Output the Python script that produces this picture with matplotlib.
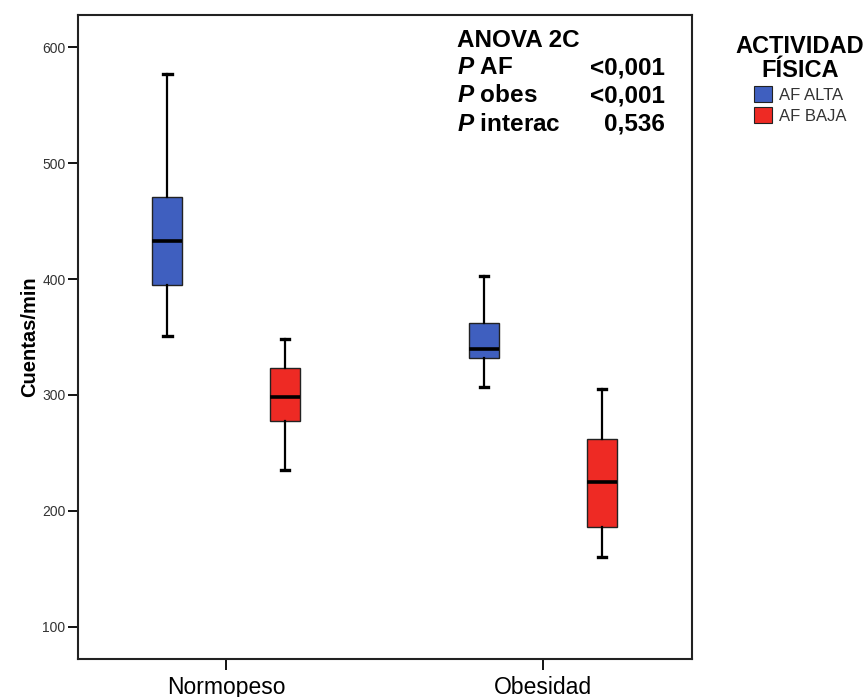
import matplotlib
matplotlib.use("Agg")
from matplotlib import pyplot as plt
from matplotlib.patches import Patch

plt.rcParams['font.family'] = ['Liberation Sans', 'DejaVu Sans']
plt.rcParams['mathtext.fontset'] = 'custom'
plt.rcParams['mathtext.bfit'] = 'Liberation Sans:bold:italic'

# groups and physical activity levels
groups = ['Normopeso', 'Obesidad']
levels = ['AF ALTA', 'AF BAJA']
colors = ['#3F5FBF', '#EE2A24']

# box stats, one value per group (Normopeso, Obesidad)
alta_whislo = [351, 307]
alta_q1 = [395, 332]
alta_med = [433, 340]
alta_q3 = [471, 362]
alta_whishi = [577, 403]

baja_whislo = [235, 160]
baja_q1 = [278, 186]
baja_med = [298, 225]
baja_q3 = [323, 262]
baja_whishi = [348, 305]

offset = 0.186

fig = plt.figure(figsize=(8.68, 6.97), dpi=100)
ax = fig.add_axes([78/868, 1-659/697, 614/868, 644/697])

def make_stats(lo, q1, med, q3, hi):
	return [dict(whislo=lo[i], q1=q1[i], med=med[i], q3=q3[i], whishi=hi[i], fliers=[])
			for i in range(len(groups))]

series = [
	(make_stats(alta_whislo, alta_q1, alta_med, alta_q3, alta_whishi), -offset, colors[0]),
	(make_stats(baja_whislo, baja_q1, baja_med, baja_q3, baja_whishi), offset, colors[1]),
]

for stats, off, col in series:
	pos = [i + off for i in range(len(groups))]
	ax.bxp(stats, positions=pos, widths=0.095, capwidths=0.028, patch_artist=True,
		   showfliers=False, manage_ticks=False,
		   boxprops=dict(facecolor=col, edgecolor='#222222', linewidth=1.0),
		   medianprops=dict(color='black', linewidth=2.6, solid_capstyle='butt'),
		   whiskerprops=dict(color='black', linewidth=1.6),
		   capprops=dict(color='black', linewidth=2.4))

ax.set_xlim(-0.467, 1.47)
ax.set_ylim(72.4, 627.6)
ax.set_xticks(range(len(groups)))
ax.set_xticklabels(groups, fontsize=16.5)
ax.set_yticks([100, 200, 300, 400, 500, 600])
ax.tick_params(axis='y', labelsize=10, labelcolor='#333333', length=7, width=1.3, pad=2)
ax.tick_params(axis='x', length=8, width=1.3, pad=4)
for s in ax.spines.values():
	s.set_linewidth(1.5)
	s.set_color('#222222')
ax.set_ylabel('Cuentas/min', fontsize=14.5, fontweight='bold', labelpad=2)

# ANOVA annotation
rows = [('$\\mathbfit{P}$ AF', '<0,001'), ('$\\mathbfit{P}$ obes', '<0,001'),
		('$\\mathbfit{P}$ interac', '0,536')]
fs = 17.5
fig.text(457/868, 1-47/697, 'ANOVA 2C', fontsize=fs, fontweight='bold', va='baseline')
for i, (lab, val) in enumerate(rows):
	yb = 1-(74+28.5*i)/697
	fig.text(457/868, yb, lab, fontsize=fs, fontweight='bold', va='baseline')
	fig.text(665/868, yb, val, fontsize=fs, fontweight='bold', va='baseline', ha='right')

# legend outside the axes
handles = [Patch(facecolor=c, edgecolor='#222222', linewidth=0.8) for c in colors]
leg = fig.legend(handles, levels, title='ACTIVIDAD\nFÍSICA', loc='upper center',
				 bbox_to_anchor=(800/868, 1-20/697), frameon=False, fontsize=12,
				 handlelength=1.1, handleheight=1.1, handletextpad=0.4, labelspacing=0.25,
				 title_fontproperties={'weight': 'bold', 'size': 17})
leg.get_title().set_multialignment('center')
leg.get_title().set_linespacing(1.05)
for t in leg.get_texts():
	t.set_color('#333333')

plt.savefig('out.png', dpi=100)
